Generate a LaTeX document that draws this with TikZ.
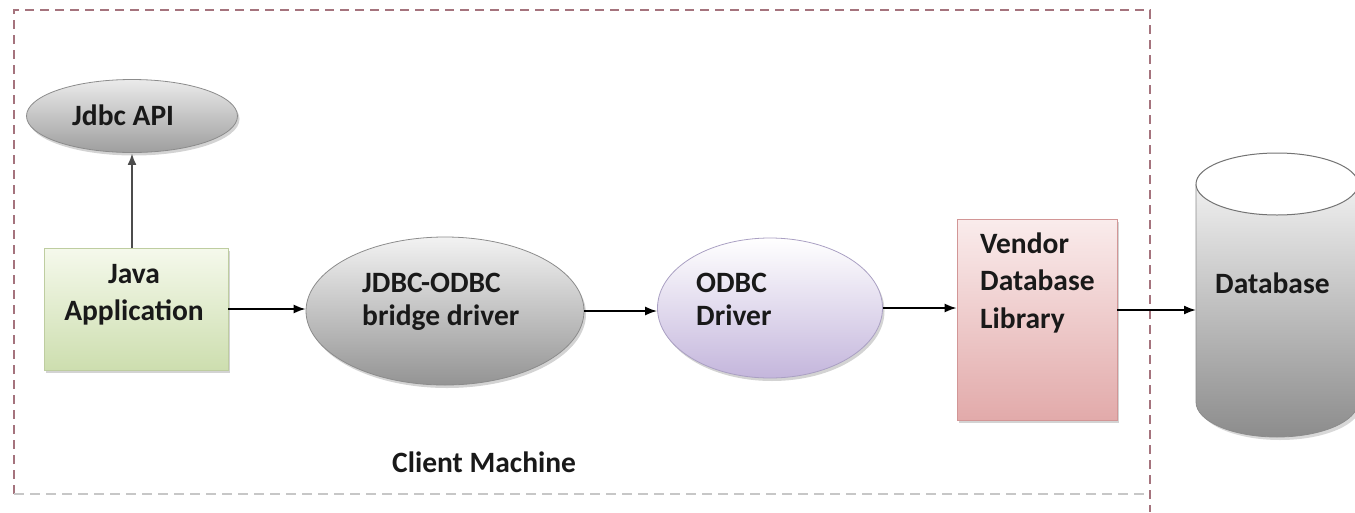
\documentclass[tikz,border=0pt]{standalone}
\usepackage{fontspec}
\setmainfont{Carlito}
\usetikzlibrary{shapes.geometric,arrows.meta,shadows}
\begin{document}
\begin{tikzpicture}[x=1pt,y=-1pt,
  every node/.style={font=\fontsize{29.5}{33}\selectfont\bfseries, text=black!90},
  shp/.style={inner sep=0pt, drop shadow={shadow xshift=2pt,shadow yshift=-3pt,opacity=0.35,fill=black!50}},
  ell/.style={shp, ellipse, draw=black!45, line width=0.8pt},
  box/.style={shp, rectangle, line width=0.8pt},
  lbl/.style={inner sep=0pt, anchor=base west, align=left},
  conn/.style={-{Latex[length=12pt,width=9pt]}, line width=1.7pt, black}
]
\useasboundingbox (0,0) rectangle (1355,512);
% client machine frame
\draw[dashed, dash pattern=on 9pt off 6pt, line width=1.3pt, color={rgb,255:red,165;green,115;blue,125}]
  (14,494) -- (14,10) -- (1150,10) -- (1150,512);
\draw[dashed, dash pattern=on 10pt off 6pt, line width=1.2pt, black!22] (14,494) -- (1150,494);

% shapes
\node[ell, minimum width=211pt, minimum height=73pt, top color=white!92!black, bottom color=black!38] (api) at (132,116) {};
\node[box, draw={rgb,255:red,190;green,205;blue,160}, minimum width=184pt, minimum height=122pt,
  top color={rgb,255:red,245;green,249;blue,236}, bottom color={rgb,255:red,205;green,222;blue,175}] (app) at (136,309) {};
\node[ell, minimum width=278pt, minimum height=148pt, top color=white!95!black, bottom color=black!42] (bridge) at (445,311) {};
\node[ell, draw={rgb,255:red,170;green,160;blue,195}, minimum width=225pt, minimum height=140pt,
  top color=white, bottom color={rgb,255:red,196;green,182;blue,220}] (odbc) at (770,308) {};
\node[box, draw={rgb,255:red,210;green,150;blue,150}, minimum width=160pt, minimum height=201pt,
  top color={rgb,255:red,250;green,236;blue,236}, bottom color={rgb,255:red,226;green,170;blue,170}] (vendor) at (1037,319.5) {};

% database cylinder
\begin{scope}
\clip (0,0) rectangle (1355,512);
\fill[black!30, opacity=0.5] (1199,187) -- (1199,405) arc[start angle=180,end angle=360,x radius=81pt,y radius=35pt] -- (1361,187) -- cycle;
\shade[top color=white!94!black, bottom color=black!45]
  (1196,184) -- (1196,402) arc[start angle=180,end angle=360,x radius=81pt,y radius=35pt] -- (1358,184) -- cycle;
\draw[black!45, line width=0.8pt] (1196,184) -- (1196,402) arc[start angle=180,end angle=360,x radius=81pt,y radius=35pt] -- (1358,184);
\draw[black!55, fill=white, line width=1pt] (1277,184) ellipse[x radius=81pt, y radius=31pt];
\end{scope}
\coordinate (db) at (1196,310);

% texts (base anchor = baseline of the last line)
\node[lbl] (tapi) at (72,125) {Jdbc API};
\node[inner sep=0pt, anchor=base, align=center, font=\fontsize{29.5}{37}\selectfont\bfseries] (tapp) at (134,320) {Java\\Application};
\node[lbl] (tbridge) at (362,325) {JDBC-ODBC\\bridge driver};
\node[lbl] (todbc) at (696,325) {ODBC\\Driver};
\node[lbl, font=\fontsize{29.5}{37.5}\selectfont\bfseries] (tvendor) at (980,328) {Vendor\\Database\\Library};
\node[lbl] (tdb) at (1215,293) {Database};
\node[lbl] (tclient) at (392,472) {Client Machine};

% connectors
\draw[-{Latex[length=12pt,width=9pt]}, line width=2.6pt, black!70] (app.north -| api.south) -- (api.south);
\draw[conn] (app.east) -- (app.east -| bridge.west);
\draw[conn] (bridge.east) -- (bridge.east -| odbc.west);
\draw[conn] (odbc.east) -- (odbc.east -| vendor.west);
\draw[conn] (vendor.east |- db) -- (db);
\end{tikzpicture}
\end{document}
